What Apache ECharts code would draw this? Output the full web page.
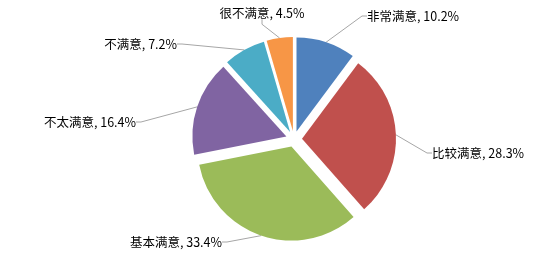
<!DOCTYPE html>
<html><head><meta charset="utf-8">
<script src="https://cdn.jsdelivr.net/npm/echarts@6/dist/echarts.min.js"></script>
<style>html,body{margin:0;padding:0;background:#fff}#c{width:554px;height:274px}</style>
</head><body><div id="c"></div>
<script>
const categories = ['非常满意','比较满意','基本满意','不太满意','不满意','很不满意'];
const values = [10.2, 28.3, 33.4, 16.4, 7.2, 4.5];
const colors = ['#4F81BD','#C0504D','#9BBB59','#8064A2','#4BACC6','#F79646'];
// label placement (Excel-like), per category
const labelSpots = [
  {x:364, y:16, align:'left'},
  {x:429, y:153, align:'left'},
  {x:225, y:242, align:'right'},
  {x:139, y:122, align:'right'},
  {x:180, y:44, align:'right'},
  {x:262, y:13, align:'center'}
];
const CX = 294, CY = 139, R = 94, EXPLODE = 8;
const total = values.reduce((a,b)=>a+b,0);
let acc = 0;
const series = categories.map((name, k) => {
  const mid = (acc + values[k]/2) / total * Math.PI * 2;
  acc += values[k];
  return {
    type:'pie',
    center:[CX + EXPLODE*Math.sin(mid), CY - EXPLODE*Math.cos(mid)],
    radius:R,
    startAngle:90,
    clockwise:true,
    silent:true,
    data: categories.map((n,i)=>({
      name:n, value:values[i],
      itemStyle:{color: i===k ? colors[i] : 'rgba(0,0,0,0)'},
      label:{show: i===k},
      labelLine:{show: i===k}
    })),
    label:{
      formatter:'{b}, {c}%',
      fontFamily:'"Noto Sans CJK SC", sans-serif',
      fontSize:12.5,
      color:'#000',
      padding:[2,3]
    },
    labelLine:{length:15,length2:5,lineStyle:{color:'#A6A6A6',width:1},smooth:false},
    labelLayout:function(p){
      const s = labelSpots[p.dataIndex];
      return {x:s.x, y:s.y, align:s.align, verticalAlign:'middle'};
    },
    emphasis:{disabled:true}
  };
});
const chart = echarts.init(document.getElementById('c'), null, {renderer:'canvas'});
chart.setOption({animation:false, series});
</script></body></html>
